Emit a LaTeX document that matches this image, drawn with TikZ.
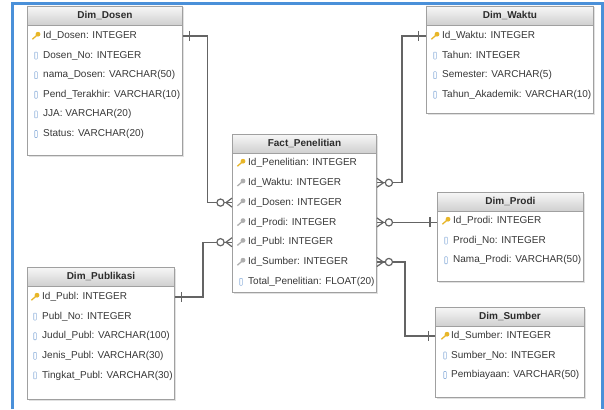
\documentclass[tikz,border=0pt]{standalone}
\usepackage{fontspec}
\setmainfont{Liberation Sans}

\definecolor{frameblue}{RGB}{74,144,217}
\definecolor{tblgray}{RGB}{160,160,160}
\definecolor{tblshadow}{RGB}{225,225,225}
\definecolor{hdtop}{RGB}{247,247,247}
\definecolor{hdbot}{RGB}{208,208,208}
\definecolor{txtgray}{RGB}{55,55,55}
\definecolor{linkgray}{RGB}{100,100,100}
\definecolor{pkcol}{RGB}{232,182,40}
\definecolor{fkcol}{RGB}{175,175,175}
\definecolor{colblue}{RGB}{150,182,222}

\begin{document}
\begin{tikzpicture}[x=1pt,y=-1pt,
  tbl/.style={draw=tblgray, fill=white, line width=0.9pt, inner sep=0pt, anchor=north west},
  hdtxt/.style={font=\fontsize{10}{12}\selectfont\bfseries, text=txtgray!80!black, inner sep=0pt},
  rowtxt/.style={font=\fontsize{10}{12}\selectfont, text=txtgray, inner sep=0pt, anchor=west, text height=7.2pt, text depth=2pt},
  keyicon/.style={minimum size=9pt, inner sep=0pt, path picture={
    \draw[line width=1.3pt, #1] ([xshift=-3.6pt,yshift=-3.2pt]path picture bounding box.center) -- ([xshift=1pt,yshift=0.8pt]path picture bounding box.center);
    \fill[#1] ([xshift=2pt,yshift=1.8pt]path picture bounding box.center) circle (2.4pt);}},
  pk/.style={keyicon=pkcol},
  fk/.style={keyicon=fkcol},
  col/.style={draw=colblue, line width=0.6pt, minimum width=2.6pt, minimum height=7pt, inner sep=0pt, rounded corners=0.6pt},
  link/.style={draw=linkgray, line width=1.2pt},
]
\useasboundingbox (0,0) rectangle (604,409);

% blue frame
\draw[line width=3pt, frameblue] (12,409) -- (12,4) -- (602.5,4) -- (602.5,409);

% table boxes
\foreach \tname/\tx/\ty/\tw/\th/\ttitle in {
  dosen/27/6/155/149/Dim\_Dosen,
  waktu/426/6/167/107/Dim\_Waktu,
  fact/232/134/144/158/Fact\_Penelitian,
  prodi/437/192/146/89/Dim\_Prodi,
  sumber/435/307/149/90/Dim\_Sumber,
  publ/27/267/147/132/Dim\_Publikasi}
{
  \fill[tblshadow] (\tx+1.5,\ty+1.5) rectangle ++(\tw,\th);
  \node[tbl, minimum width=\tw pt, minimum height=\th pt] (\tname) at (\tx,\ty) {};
  \shade[top color=hdtop, bottom color=hdbot] (\tname.north west) rectangle ([yshift=-19pt]\tname.north east);
  \draw[tblgray, line width=0.9pt] ([yshift=-19pt]\tname.north west) -- ([yshift=-19pt]\tname.north east);
  \draw[tblgray, line width=0.9pt] (\tname.north west) rectangle (\tname.south east);
  \node[hdtxt] (\tname-h) at ([yshift=-9.5pt]\tname.north) {\ttitle};
}

% rows
\foreach \ic/\txt [count=\i] in {pk/Id\_Dosen: INTEGER, col/Dosen\_No: INTEGER,
    col/nama\_Dosen: VARCHAR(50), col/Pend\_Terakhir: VARCHAR(10),
    col/JJA: VARCHAR(20), col/Status: VARCHAR(20)} {
  \node[\ic] at (36,{36+(\i-1)*19.6}) {};
  \node[rowtxt] (dosen-\i) at (43,{36+(\i-1)*19.6}) {\txt};
}
\foreach \ic/\txt [count=\i] in {pk/Id\_Waktu: INTEGER, col/Tahun: INTEGER,
    col/Semester: VARCHAR(5), col/Tahun\_Akademik: VARCHAR(10)} {
  \node[\ic] at (435,{36+(\i-1)*19.6}) {};
  \node[rowtxt] (waktu-\i) at (442,{36+(\i-1)*19.6}) {\txt};
}
\foreach \ic/\txt [count=\i] in {pk/Id\_Penelitian: INTEGER, fk/Id\_Waktu: INTEGER,
    fk/Id\_Dosen: INTEGER, fk/Id\_Prodi: INTEGER, fk/Id\_Publ: INTEGER,
    fk/Id\_Sumber: INTEGER, col/Total\_Penelitian: FLOAT(20)} {
  \node[\ic] at (241,{163+(\i-1)*19.8}) {};
  \node[rowtxt] (fact-\i) at (248,{163+(\i-1)*19.8}) {\txt};
}
\foreach \ic/\txt [count=\i] in {pk/Id\_Prodi: INTEGER, col/Prodi\_No: INTEGER,
    col/Nama\_Prodi: VARCHAR(50)} {
  \node[\ic] at (446,{221+(\i-1)*19.6}) {};
  \node[rowtxt] (prodi-\i) at (453,{221+(\i-1)*19.6}) {\txt};
}
\foreach \ic/\txt [count=\i] in {pk/Id\_Sumber: INTEGER, col/Sumber\_No: INTEGER,
    col/Pembiayaan: VARCHAR(50)} {
  \node[\ic] at (445,{336+(\i-1)*19.5}) {};
  \node[rowtxt] (sumber-\i) at (451,{336+(\i-1)*19.5}) {\txt};
}
\foreach \ic/\txt [count=\i] in {pk/Id\_Publ: INTEGER, col/Publ\_No: INTEGER,
    col/Judul\_Publ: VARCHAR(100), col/Jenis\_Publ: VARCHAR(30),
    col/Tingkat\_Publ: VARCHAR(30)} {
  \node[\ic] at (35,{297+(\i-1)*19.6}) {};
  \node[rowtxt] (publ-\i) at (42,{297+(\i-1)*19.6}) {\txt};
}

% connectors
\coordinate (dosenbend) at (207.5,0);
\coordinate (waktubend) at (402,0);
\coordinate (publbend) at (203,0);
\coordinate (sumberbend) at (405,0);

\draw[link] (dosen.east |- dosen-1) -| (dosenbend |- fact-3) -- (fact.west |- fact-3);
\draw[link] (waktu.west |- waktu-1) -| (waktubend |- fact-2) -- (fact.east |- fact-2);
\draw[link] (fact.east |- fact-4) -- (prodi.west |- fact-4);
\draw[link] (publ.east |- publ-1) -| (publbend |- fact-5) -- (fact.west |- fact-5);
\draw[link] (fact.east |- fact-6) -| (sumberbend |- sumber-1) -- (sumber.west |- sumber-1);

% one ends
\coordinate (b-dosen) at (dosen.east |- dosen-1);
\coordinate (b-publ) at (publ.east |- publ-1);
\coordinate (b-waktu) at (waktu.west |- waktu-1);
\coordinate (b-prodi) at (prodi.west |- fact-4);
\coordinate (b-sumber) at (sumber.west |- sumber-1);
\foreach \b/\d in {dosen/6.5, publ/6.5, waktu/-7.5, prodi/-7, sumber/-6.5}
  \draw[link] ([xshift=\d pt,yshift=5pt]b-\b) -- ([xshift=\d pt,yshift=-5pt]b-\b);

% many ends
\foreach \r in {3,5} {
  \coordinate (fl-\r) at (fact.west |- fact-\r);
  \draw[link] ([yshift=4.5pt]fl-\r) -- ([xshift=-6pt]fl-\r) -- ([yshift=-4.5pt]fl-\r);
  \draw[link, fill=white] ([xshift=-11.5pt]fl-\r) circle (3.6pt);
}
\foreach \r in {2,4,6} {
  \coordinate (fr-\r) at (fact.east |- fact-\r);
  \draw[link] ([yshift=4.5pt]fr-\r) -- ([xshift=6.5pt]fr-\r) -- ([yshift=-4.5pt]fr-\r);
  \draw[link, fill=white] ([xshift=12pt]fr-\r) circle (3.6pt);
}

\end{tikzpicture}
\end{document}
